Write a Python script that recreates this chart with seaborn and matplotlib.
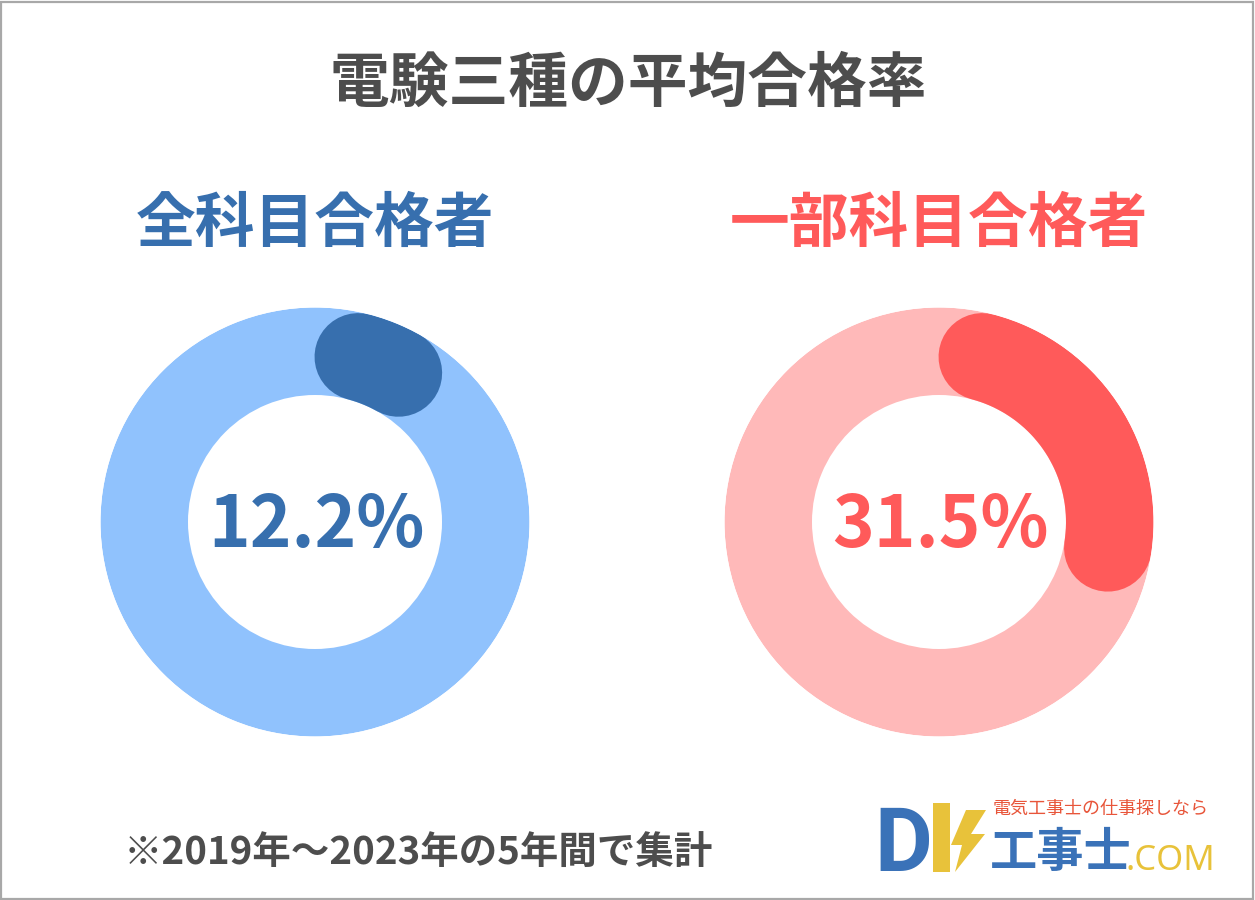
import numpy as np
import matplotlib
matplotlib.use("Agg")
import matplotlib.pyplot as plt
from matplotlib.patches import Rectangle, Polygon
import seaborn as sns

sns.set_theme(style="white")
plt.rcParams['font.family'] = ['Noto Sans CJK JP', 'DejaVu Sans']

# データ
title = '電験三種の平均合格率'
labels = ['全科目合格者', '一部科目合格者']
rates = [12.2, 31.5]
arc_colors = ['#376FAE', '#FF5A5A']
ring_colors = ['#90C2FD', '#FFB9B9']
note = '※2019年〜2023年の5年間で集計'

W, H = 1255, 900
fig = plt.figure(figsize=(W / 100, H / 100), dpi=100)
fig.patch.set_facecolor('white')

def fx(x):
    return x / W

def fy(y):
    return 1 - y / H

# 枠線
fig.patches.append(Rectangle((0.001, 0.001), 0.9975, 0.997, transform=fig.transFigure,
                             fill=False, edgecolor='#A8A8A8', linewidth=1.6))

fig.text(fx(628), fy(85), title, ha='center', va='center', fontsize=43,
         fontweight='bold', color='#4D4D4D')

outer, inner = 214.5, 127
r_mid = (outer + inner) / 2
half = (outer - inner) / 2
delta = half / r_mid
centers = [315, 939]

for i, (lab, p) in enumerate(zip(labels, rates)):
    cx, cy = centers[i], 522
    ax = fig.add_axes([fx(cx - outer), fy(cy + outer), (2 * outer) / W, (2 * outer) / H],
                      projection='polar')
    ax.set_theta_zero_location('N')
    ax.set_theta_direction(-1)
    ax.bar(np.pi, outer - inner, width=2 * np.pi, bottom=inner,
           color=ring_colors[i], linewidth=0)
    theta = np.linspace(delta, 2 * np.pi * p / 100 - delta, 200)
    sns.lineplot(x=theta, y=np.full_like(theta, r_mid), ax=ax, color=arc_colors[i],
                 linewidth=(outer - inner) * 0.72, solid_capstyle='round', sort=False)
    ax.set_ylim(0, outer)
    ax.set_axis_off()

    fig.text(fx(cx), fy(225), lab, ha='center', va='center', fontsize=43,
             fontweight='bold', color=arc_colors[i])
    fig.text(fx(cx + 1), fy(526), f'{p}%', ha='center', va='center', fontsize=51,
             fontweight='bold', color=arc_colors[i])

fig.text(fx(124), fy(852), note, ha='left', va='center', fontsize=27.7,
         fontweight='bold', color='#4D4D4D')

# ロゴ
fig.text(fx(874), fy(871), 'D', ha='left', va='baseline', fontsize=64,
         fontweight='bold', color='#3A72B8', family='Roboto')
fig.patches.append(Rectangle((fx(933), fy(872)), fx(17), 69 / H, transform=fig.transFigure,
                             color='#E8C23A', linewidth=0))
bolt = [(966, 810), (986, 810), (971, 834), (985, 834), (955, 872), (962, 845), (951, 845)]
fig.patches.append(Polygon([(fx(x), fy(y)) for x, y in bolt], closed=True,
                           transform=fig.transFigure, color='#E8C23A', linewidth=0))
fig.text(fx(993), fy(809), '電気工事士の仕事探しなら', ha='left', va='center',
         fontsize=13, color='#E8553A')
fig.text(fx(990), fy(853), '工事士', ha='left', va='center', fontsize=34,
         fontweight='bold', color='#3A72B8')
fig.text(fx(1125), fy(870), '.COM', ha='left', va='baseline', fontsize=25,
         fontweight='medium', color='#E8C23A', family='Noto Sans')

fig.savefig('out.png', dpi=100, facecolor='white')
